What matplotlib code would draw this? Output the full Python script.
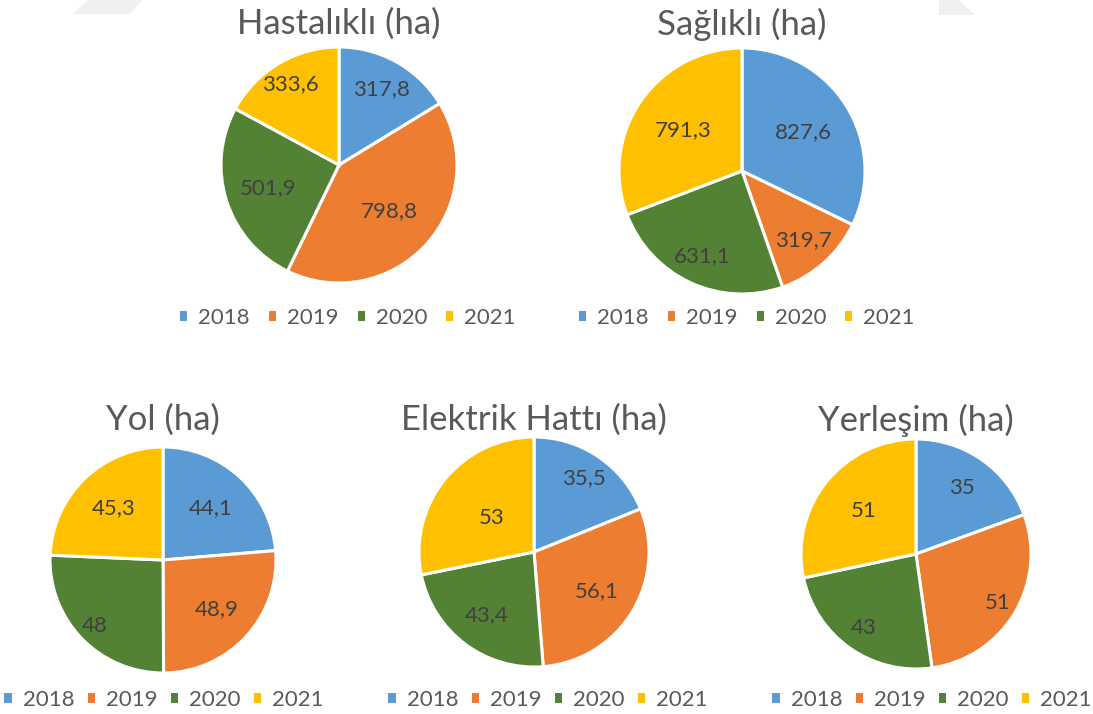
import matplotlib
matplotlib.use("Agg")
import matplotlib.pyplot as plt
import matplotlib.patches as patches
import numpy as np

W, H = 1093, 714

years = ["2018", "2019", "2020", "2021"]
colors = ["#5B9BD5", "#ED7D31", "#548235", "#FFC000"]

hastalikli = [317.8, 798.8, 501.9, 333.6]
saglikli = [827.6, 319.7, 631.1, 791.3]
yol = [44.1, 48.9, 48, 45.3]
elektrik = [35.5, 56.1, 43.4, 53]
yerlesim = [35, 51, 43, 51]

titles = ["Hastalıklı (ha)", "Sağlıklı (ha)", "Yol (ha)", "Elektrik Hattı (ha)", "Yerleşim (ha)"]
series = [hastalikli, saglikli, yol, elektrik, yerlesim]

# layout in pixels: pie centre x, y, radius, title y, legend x, legend y, legend column gap
layout = [
    (339, 165, 118, 24, 348, 318, 0.85),
    (742, 171, 123, 24, 747, 318, 0.85),
    (163, 560, 113, 420, 164, 700, 0.6),
    (534, 552, 115, 420, 548, 700, 0.6),
    (916, 554, 115, 420, 932, 700, 0.6),
]
# radial position of each data label (fraction of radius)
label_dist = [
    [0.74, 0.58, 0.63, 0.80],
    [0.59, 0.75, 0.76, 0.58],
    [0.62, 0.65, 0.84, 0.63],
    [0.77, 0.64, 0.69, 0.47],
    [0.70, 0.83, 0.79, 0.59],
]

plt.rcParams['font.family'] = ['Lato', 'DejaVu Sans']

fig = plt.figure(figsize=(W / 100, H / 100), dpi=100)
fig.patch.set_facecolor("white")

# faint background shapes at the top edge
fig.patches.append(patches.Polygon(
    [(73 / W, 1 - 14 / H), (130 / W, 1 - 14 / H), (142 / W, 1), (88 / W, 1)],
    closed=True, transform=fig.transFigure, facecolor="#f0f0f0", edgecolor="none"))
fig.patches.append(patches.Polygon(
    [(939 / W, 1 - 15 / H), (975 / W, 1 - 15 / H), (958 / W, 1), (939 / W, 1)],
    closed=True, transform=fig.transFigure, facecolor="#f0f0f0", edgecolor="none"))


def fmt(v):
    return f"{v:g}".replace(".", ",")


for vals, title, (cx, cy, r, ty, lx, ly, cs), dists in zip(series, titles, layout, label_dist):
    pad = 1.03
    ax = fig.add_axes([(cx - r * pad) / W, 1 - (cy + r * pad) / H,
                       2 * r * pad / W, 2 * r * pad / H])
    wedges, _ = ax.pie(vals, colors=colors, startangle=90, counterclock=False,
                       wedgeprops=dict(edgecolor="white", linewidth=2.2))
    for w, v, d in zip(wedges, vals, dists):
        mid = np.deg2rad((w.theta1 + w.theta2) / 2)
        ax.text(d * np.cos(mid), d * np.sin(mid), fmt(v), ha="center", va="center",
                fontsize=16, color="#404040")
    ax.set_xlim(-pad, pad)
    ax.set_ylim(-pad, pad)
    ax.set_aspect("equal")
    ax.axis("off")

    fig.text(cx / W, 1 - ty / H, title, ha="center", va="center",
             fontsize=25, color="#595959")

    handles = [patches.Patch(facecolor=c, edgecolor="none") for c in colors]
    fig.legend(handles, years, loc="center", bbox_to_anchor=(lx / W, 1 - ly / H),
               ncol=4, frameon=False, fontsize=16, labelcolor="#595959",
               handlelength=0.32, handleheight=0.32, handletextpad=0.5,
               columnspacing=cs, borderpad=0.1, borderaxespad=0)

fig.savefig("out.png", dpi=100, facecolor="white")
